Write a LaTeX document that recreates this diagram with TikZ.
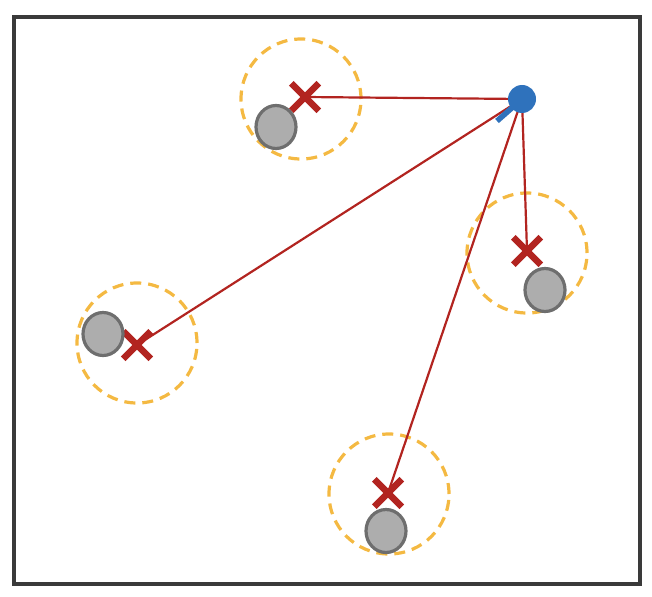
\documentclass[tikz,border=0pt]{standalone}
\usetikzlibrary{shapes.misc, shapes.geometric}

\definecolor{range_color}{HTML}{F4B942}
\definecolor{est_color}{HTML}{B22420}
\definecolor{robot_color}{HTML}{2F72BC}
\definecolor{mark_fill}{HTML}{ADADAD}
\definecolor{mark_draw}{HTML}{6E6E6E}
\definecolor{frame_color}{HTML}{3A3A3A}

\begin{document}
\begin{tikzpicture}[
    x=1pt, y=-1pt,
    rangecircle/.style={
        circle,
        draw=range_color,
        line width=3.2pt,
        dash pattern=on 11pt off 7pt,
        minimum size=120pt,
        inner sep=0pt
    },
    estimate/.style={
        cross out,
        draw=est_color,
        line width=6.5pt,
        minimum size=21pt,
        inner sep=0pt
    },
    landmark/.style={
        ellipse,
        draw=mark_draw,
        fill=mark_fill,
        line width=3.2pt,
        minimum width=40pt,
        minimum height=43pt,
        inner sep=0pt
    },
    ray/.style={
        draw=est_color,
        line width=2.2pt
    }
]

% Frame
\useasboundingbox (0,0) rectangle (652,596);
\draw[frame_color, line width=3.5pt] (14,17) rectangle (640,584);

% Range circles
\node[rangecircle] (R1) at (301,99) {};
\node[rangecircle] (R2) at (527,253) {};
\node[rangecircle] (R3) at (137,343) {};
\node[rangecircle] (R4) at (389,494) {};

% Robot position
\coordinate (robot) at (522,99);
\coordinate (heading) at (497,121);

% Rays to the estimates
\coordinate (E1c) at (305,97);
\coordinate (E2c) at (527,251);
\coordinate (E3c) at (137,345);
\coordinate (E4c) at (388,493);
\draw[ray] (robot) -- (E1c);
\draw[ray] (robot) -- (E2c);
\draw[ray] (robot) -- (E3c);
\draw[ray] (robot) -- (E4c);

% Estimates
\node[estimate] (E1) at (E1c) {};
\node[estimate] (E2) at (E2c) {};
\node[estimate] (E3) at (E3c) {};
\node[estimate] (E4) at (E4c) {};

% Landmarks
\node[landmark] (L1) at (276,127) {};
\node[landmark] (L2) at (545,290) {};
\node[landmark] (L3) at (103,334) {};
\node[landmark] (L4) at (386,531) {};

% Robot
\draw[robot_color, line width=5.5pt] (robot) -- (heading);
\node[circle, fill=robot_color, minimum size=28pt, inner sep=0pt] (R) at (robot) {};

\end{tikzpicture}
\end{document}
